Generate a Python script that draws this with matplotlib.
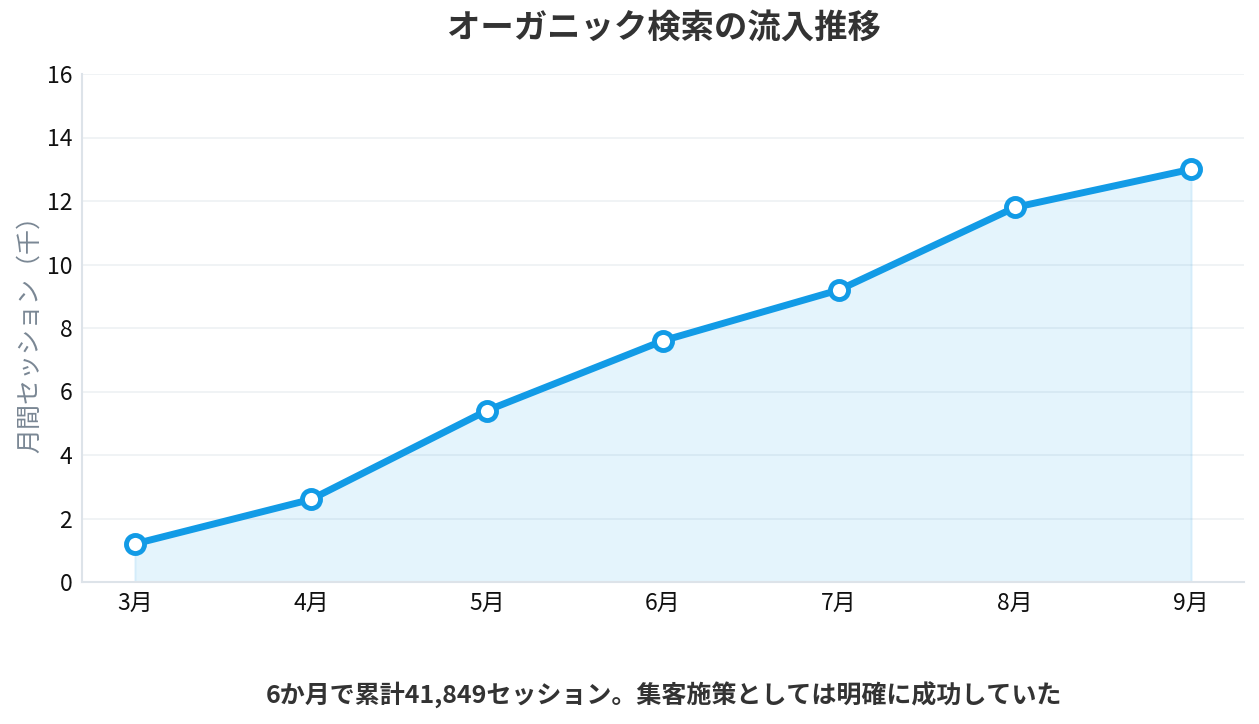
import matplotlib
matplotlib.use('Agg')
import matplotlib.pyplot as plt

plt.rcParams['font.family'] = ['Noto Sans CJK JP', 'DejaVu Sans']

# データ
months = ['3月', '4月', '5月', '6月', '7月', '8月', '9月']
sessions = [1.2, 2.6, 5.4, 7.6, 9.2, 11.8, 13.0]
y_ticks = [0, 2, 4, 6, 8, 10, 12, 14, 16]

line_color = '#129be6'

fig = plt.figure(figsize=(12.59, 7.24), dpi=100)
ax = fig.add_axes([82 / 1259, 1 - 582 / 724, (1244 - 82) / 1259, (582 - 74) / 724])

x = list(range(len(months)))
ax.fill_between(x, sessions, 0, color=line_color, alpha=0.11, linewidth=1.5, edgecolor=(0.07, 0.6, 0.9, 0.12))
ax.plot(x, sessions, color=line_color, linewidth=5, marker='o', markersize=13,
        markerfacecolor='white', markeredgecolor=line_color, markeredgewidth=3.5, zorder=3)

ax.set_xlim(-0.3, 6.3)
ax.set_ylim(0, 16)
ax.set_xticks(x)
ax.set_xticklabels(months)
ax.set_yticks(y_ticks)
ax.tick_params(axis='both', length=0, labelsize=16.5, colors='#111111', pad=7)
ax.grid(axis='y', color='#eef1f4', linewidth=1.2)
ax.set_axisbelow(True)
for s in ['top', 'right']:
    ax.spines[s].set_visible(False)
for s in ['left', 'bottom']:
    ax.spines[s].set_color('#dde3e9')
    ax.spines[s].set_linewidth(1.5)

ax.set_ylabel('月間セッション（千）', fontsize=18, color='#7a8794', labelpad=3)

fig.text(0.527, 0.961, 'オーガニック検索の流入推移', ha='center', va='center',
         fontsize=24, fontweight='bold', color='#333333')
fig.text(0.527, 0.039, '6か月で累計41,849セッション。集客施策としては明確に成功していた', ha='center', va='center',
         fontsize=18, fontweight='bold', color='#333333')

fig.savefig('out.png', dpi=100)
